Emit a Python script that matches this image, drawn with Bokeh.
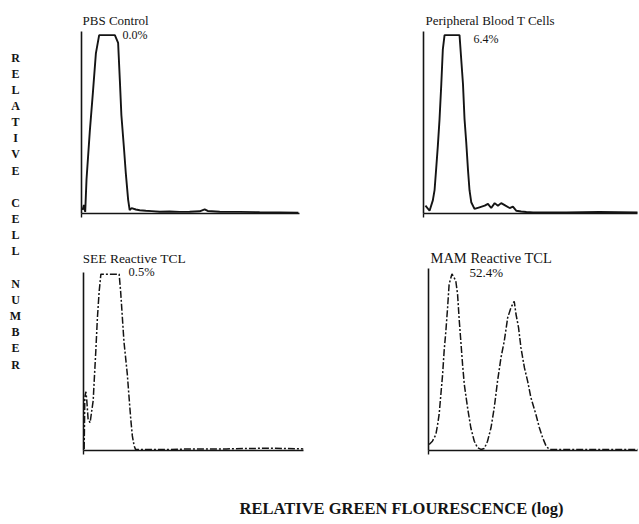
from bokeh.plotting import figure
from bokeh.models import Range1d, LinearAxis, FixedTicker, Label
from bokeh.layouts import row, column
from bokeh.embed import file_html
from bokeh.resources import INLINE

# ---------------- data (relative log fluorescence 0-100, relative cell number 0-100) -------------
pbs_x = [0.5, 1.1, 1.7, 2.3, 3.8, 5.3, 6.6, 8.1, 15.3, 16.8, 17.6, 18.3, 19.5, 20.3, 21.4, 22.1,
         23.0, 24.9, 26.7, 29.5, 32.2, 35.9, 40.4, 45.0, 49.6, 54.2, 56.5, 57.9, 63.4, 72.5, 81.7, 90.8, 99.5]
pbs_y = [1.9, 4.7, 0.9, 18.7, 45.0, 67.5, 88.0, 98.0, 98.0, 93.7, 73.0, 54.0, 35.6, 22.5, 7.5, 1.9,
         3.0, 2.2, 1.8, 1.5, 1.3, 1.0, 1.1, 0.9, 1.0, 1.2, 2.3, 1.4, 1.0, 0.9, 0.7, 0.6, 0.5]

pbl_x = [0.9, 2.8, 4.3, 5.1, 5.8, 6.6, 7.4, 8.2, 8.9, 9.7, 16.6, 17.4, 18.2, 18.9, 19.7, 20.5, 21.2,
         22.0, 23.5, 25.8, 28.2, 29.7, 31.2, 32.8, 34.3, 35.8, 37.8, 39.7, 41.2, 42.8, 45.0, 47.4,
         50.5, 65.8, 81.0, 99.2]
pbl_y = [4.3, 1.5, 7.2, 12.8, 24.0, 37.0, 52.0, 71.0, 90.0, 98.0, 98.0, 84.5, 71.0, 52.0, 39.0, 24.0,
         12.8, 6.2, 2.5, 3.4, 4.3, 5.3, 3.0, 5.7, 4.3, 5.7, 4.3, 3.0, 3.8, 1.5, 1.1, 0.8,
         0.6, 0.6, 0.8, 0.6]

see_x = [0.3, 0.6, 1.1, 1.5, 2.1, 3.0, 3.6, 4.4, 4.8, 5.6, 6.3, 7.1, 7.9, 16.2, 16.9, 17.7, 18.4,
         19.9, 20.7, 21.5, 22.2, 23.0, 23.7, 35.0, 50.0, 65.0, 83.4, 100.0]
see_y = [0.9, 30.0, 33.0, 28.0, 17.4, 15.6, 21.0, 28.0, 37.6, 56.0, 74.0, 89.0, 99.0, 99.0, 89.0, 74.0, 61.0,
         43.0, 30.0, 17.4, 8.2, 2.7, 0.5, 0.5, 0.9, 0.9, 1.3, 0.9]

mam_x = [0.3, 1.8, 3.4, 4.2, 4.9, 5.7, 6.5, 7.2, 8.0, 8.8, 9.5, 10.8, 11.8, 12.6, 13.4, 14.2, 14.9,
         15.7, 16.5, 18.0, 19.5, 21.1, 22.6, 24.2, 25.7, 27.2, 28.8, 30.3, 31.8, 33.4, 34.9, 36.5,
         38.0, 39.5, 40.3, 41.5, 42.6, 44.2, 45.7, 47.2, 49.5, 51.1, 52.6, 54.2, 55.7, 78.8, 96.8]
mam_y = [3.3, 5.1, 8.8, 14.3, 19.8, 30.8, 41.8, 54.6, 65.6, 78.5, 91.3, 97.0, 95.0, 93.0, 85.8, 71.0, 60.0,
         47.3, 36.3, 23.5, 12.5, 5.1, 1.5, 0.6, 1.1, 5.1, 12.5, 23.5, 38.0, 51.0, 60.0, 73.0,
         78.5, 82.0, 75.0, 67.5, 56.5, 45.5, 38.0, 29.0, 19.8, 12.5, 7.0, 2.4, 0.6, 0.6, 0.6]

titles = ["PBS Control", "Peripheral Blood T Cells", "SEE Reactive TCL", "MAM Reactive TCL"]
percents = ["0.0%", "6.4%", "0.5%", "52.4%"]
y_label = "RELATIVE CELL NUMBER"
x_label = "RELATIVE GREEN FLOURESCENCE (log)"

SERIF = "Liberation Serif"
INK = "#141414"

# ---------------- layout (page pixels, origin at page top-left) ----------------
ROW1_TOP, ROW1_H = 0, 240
ROW2_TOP, ROW2_H = 240, 230
LEFT_W = 66
COL_X = LEFT_W
SPLIT_X = 410
RIGHT_EDGE = 639


def panel(fx, fw, fy, fh, ax_left, ax_bottom, ax_top, ppx, xs, ys, title, pct, t_pos, p_pos,
          dash, t_size, p_size):
    ppy = (ax_bottom - ax_top) / 100.0
    left = ax_left - fx
    right_page = fx + fw
    frame_right = right_page - 2 if right_page >= RIGHT_EDGE else ax_left + 100 * ppx
    right = right_page - frame_right
    top = 4
    bottom = fy + fh - ax_bottom
    frame_w = frame_right - ax_left
    frame_h = fh - bottom - top
    p = figure(width=fw, height=fh, output_backend="svg", toolbar_location=None,
               x_range=Range1d(0, frame_w / ppx), y_range=Range1d(0, frame_h / ppy),
               x_axis_location=None, y_axis_location=None,
               min_border_left=int(round(left)), min_border_right=int(round(right)),
               min_border_top=top, min_border_bottom=int(round(bottom)))
    p.outline_line_color = None
    p.background_fill_color = "white"
    p.border_fill_color = "white"
    p.grid.visible = False
    xa = LinearAxis(bounds=(0, 100), ticker=FixedTicker(ticks=[0, 100]),
                    major_tick_out=4, major_tick_in=0, minor_tick_out=0, minor_tick_in=0,
                    major_label_text_font_size="1px", major_label_text_color=None,
                    major_label_standoff=0,
                    axis_line_color=INK, axis_line_width=1.6, major_tick_line_color=INK,
                    major_tick_line_width=1.4)
    ya = LinearAxis(bounds=(0, 100), ticker=FixedTicker(ticks=[]),
                    major_tick_out=0, major_tick_in=0, minor_tick_out=0, minor_tick_in=0,
                    major_label_text_font_size="1px", major_label_text_color=None,
                    major_label_standoff=0,
                    axis_line_color=INK, axis_line_width=1.6)
    p.add_layout(xa, "below")
    p.add_layout(ya, "left")
    if dash:
        p.line(xs, ys, line_color=INK, line_width=1.5, line_dash="7 2 2 2")
    else:
        p.line(xs, ys, line_color=INK, line_width=1.9)

    def to_data(px, py):
        return (px - ax_left) / ppx, (ax_bottom - py) / ppy

    tx, ty = to_data(*t_pos)
    p.add_layout(Label(x=tx, y=ty, text=title, text_font=SERIF, text_font_size=t_size,
                       text_color=INK, text_baseline="alphabetic"))
    qx, qy = to_data(*p_pos)
    p.add_layout(Label(x=qx, y=qy, text=pct, text_font=SERIF, text_font_size=p_size,
                       text_color=INK, text_baseline="alphabetic"))
    return p


tl = panel(COL_X, SPLIT_X - COL_X, ROW1_TOP, ROW1_H, 81, 213, 31, 2.18, pbs_x, pbs_y,
           titles[0], percents[0], (82, 20), (122, 34), False, "13px", "12px")
tr = panel(SPLIT_X, RIGHT_EDGE - SPLIT_X, ROW1_TOP, ROW1_H, 423, 213, 31, 2.17, pbl_x, pbl_y,
           titles[1], percents[1], (425, 20), (473, 38), False, "13px", "12px")
bl = panel(COL_X, SPLIT_X - COL_X, ROW2_TOP, ROW2_H, 83, 451, 272, 2.2, see_x, see_y,
           titles[2], percents[2], (82, 258), (128, 272), True, "13.5px", "12.5px")
br = panel(SPLIT_X, RIGHT_EDGE - SPLIT_X, ROW2_TOP, ROW2_H, 428, 450, 268, 2.17, mam_x, mam_y,
           titles[3], percents[3], (430, 257), (469, 272), True, "14.5px", "13px")

# vertical axis caption, one letter per line
ylab_h = ROW1_H + ROW2_H
ylab = figure(width=LEFT_W, height=ylab_h, output_backend="svg", toolbar_location=None,
              x_range=Range1d(0, LEFT_W), y_range=Range1d(0, ylab_h),
              x_axis_location=None, y_axis_location=None, min_border=0)
ylab.outline_line_color = None
ylab.grid.visible = False
lines = []
for word in y_label.split(" "):
    lines.extend(list(word))
    lines.append("")
lines = lines[:-1]
step = 16.16
lx, ly, lt = [], [], []
for i, ch in enumerate(lines):
    if ch:
        lx.append(15)
        ly.append(ylab_h - (57 + i * step))
        lt.append(ch)
ylab.text(x=lx, y=ly, text=lt, text_font={"value": SERIF}, text_font_size="12px",
          text_font_style="bold", text_align="center", text_baseline="middle", text_color=INK)

# horizontal axis caption
xlab_w, xlab_h = RIGHT_EDGE, 50
xlab = figure(width=xlab_w, height=xlab_h, output_backend="svg", toolbar_location=None,
              x_range=Range1d(0, xlab_w), y_range=Range1d(0, xlab_h),
              x_axis_location=None, y_axis_location=None, min_border=0)
xlab.outline_line_color = None
xlab.grid.visible = False
xlab.add_layout(Label(x=401, y=xlab_h - (508 - 470), text=x_label, text_font=SERIF,
                      text_font_size="16.5px", text_font_style="bold", text_align="center",
                      text_baseline="alphabetic", text_color=INK))

layout = column(row(ylab, column(row(tl, tr), row(bl, br))), xlab)

open("out.html", "w").write(file_html(layout, INLINE))
